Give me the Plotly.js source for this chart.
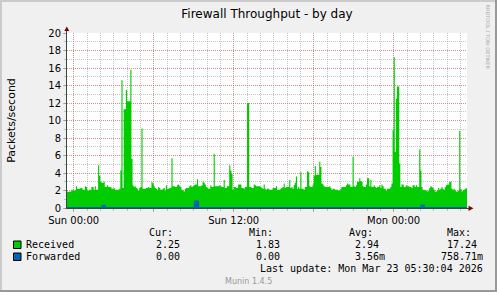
<!DOCTYPE html>
<html><head><meta charset="utf-8">
<script src="https://cdn.plot.ly/plotly-3.0.1.min.js"></script>
<style>html,body{margin:0;padding:0;background:#f0f0f0;}#chart{width:497px;height:292px;}</style>
</head><body><div id="chart"></div>
<script>
// time axis: hours relative to Sun 00:00, 5-minute steps starting Sat 23:30
const startHour = -0.5;
const stepHour = 5 / 60;
const endHour = 29.5;

// Received packets/second, one row per hour (12 x 5-min samples)
const received = [
1.9,1.83,1.9,1.9,2.1,2.0,2.0,2.0,2.5,2.2,2.2,2.2,
2.3,2.3,2.1,2.1,2.5,2.4,2.0,2.0,2.1,2.1,2.4,2.4,
2.1,2.5,2.1,2.1,4.9,3.7,3.0,2.9,2.9,3.0,2.4,2.4,
2.6,2.4,2.4,2.4,2.2,2.2,2.3,2.1,2.1,2.1,2.1,2.2,
4.3,14.6,2.3,11.3,11.3,13.5,12.2,12.2,12.2,15.8,5.6,2.6,
2.4,2.5,2.3,2.2,2.0,2.3,2.4,9.1,2.2,2.2,2.2,2.3,
2.3,2.4,2.3,2.3,3.0,2.8,2.5,2.3,2.2,2.1,2.4,2.3,
2.1,2.1,2.2,2.3,2.0,2.6,2.2,2.2,2.3,2.3,5.7,2.5,
2.5,2.4,2.4,2.6,2.7,2.5,2.4,2.1,2.0,1.9,2.2,2.3,
2.3,2.3,2.5,2.6,2.4,2.5,2.6,2.7,2.7,3.3,2.5,2.5,
2.5,2.6,3.0,2.9,2.7,2.4,2.3,2.2,2.2,2.6,2.4,2.4,
6.2,2.5,2.5,2.5,2.5,2.6,2.5,2.4,2.4,3.2,2.3,2.3,
2.5,2.5,4.9,4.3,3.9,2.1,2.4,2.4,2.3,2.3,2.7,2.7,
2.7,2.3,2.3,2.2,2.4,2.4,12.0,12.0,2.4,2.4,2.3,2.3,
2.7,2.6,2.5,2.5,2.5,2.5,2.4,2.3,2.2,2.7,2.2,2.1,
2.2,2.2,2.1,2.1,2.1,2.3,2.3,2.3,2.5,2.1,2.1,2.1,
2.2,2.3,2.4,2.8,2.3,2.4,2.4,2.4,3.2,2.3,2.4,2.2,
2.6,2.9,3.6,2.2,2.4,2.2,4.1,2.2,2.2,2.1,2.4,2.4,
4.2,4.1,2.5,2.4,2.4,2.7,3.7,4.8,3.8,3.8,3.8,5.3,
4.7,2.8,2.7,2.5,2.4,2.4,2.4,2.4,2.5,2.3,2.1,2.2,
2.2,2.1,2.1,2.1,2.0,2.0,2.2,2.4,2.4,2.4,2.4,2.6,
2.8,2.7,2.7,2.4,2.4,5.9,2.5,2.4,2.6,3.0,3.0,3.4,
3.1,3.0,2.5,2.4,2.4,2.7,3.4,3.4,2.5,3.2,2.4,2.4,
2.6,2.4,2.3,2.4,2.4,2.6,2.3,2.7,2.5,2.2,2.2,2.0,
2.2,2.2,2.2,2.4,2.8,8.9,17.24,6.4,12.5,13.9,13.9,5.1,
2.4,2.7,2.7,2.4,2.4,2.6,2.5,2.5,2.4,2.4,2.3,2.6,
2.6,2.4,2.6,2.4,2.4,6.7,4.3,2.4,2.1,2.1,2.0,2.0,
1.9,2.0,2.3,2.5,2.4,2.3,2.1,1.9,1.9,2.0,2.3,2.1,
2.2,2.4,2.2,2.1,2.4,2.6,2.7,2.7,3.0,3.0,2.2,2.1,
2.2,2.0,1.9,1.9,2.0,8.8,2.2,1.9,2.0,2.1,2.2,2.25
];

// Forwarded packets/second, same layout
const forwarded = [
0,0,0,0,0,0,0,0,0,0,0,0,
0,0,0,0,0,0,0,0,0,0,0,0,
0,0,0,0,0,0,0,0,0.25,0.25,0,0,
0,0,0,0,0,0,0,0,0,0,0,0,
0,0,0,0,0,0,0,0,0,0,0,0,
0,0,0,0,0,0,0,0,0,0,0,0,
0,0,0,0,0,0,0,0,0,0,0,0,
0,0,0,0,0,0,0,0,0,0,0,0,
0,0,0,0,0,0,0,0,0,0,0,0,
0,0,0,0,0,0,0,0.72,0.7587,0.72,0,0,
0,0,0,0,0,0,0,0,0,0,0,0,
0,0,0,0,0,0,0,0,0,0,0,0,
0,0,0,0,0,0,0,0,0,0,0,0,
0,0,0,0,0,0,0,0,0,0,0,0,
0,0,0,0,0,0,0,0,0,0,0,0,
0,0,0,0,0,0,0,0,0,0,0,0,
0,0,0,0,0,0,0,0,0,0,0,0,
0,0,0,0,0,0,0,0,0,0,0,0,
0,0,0,0,0,0,0,0,0,0,0,0,
0,0,0,0,0,0,0,0,0,0,0,0,
0,0,0,0,0,0,0,0,0,0,0,0,
0,0,0,0,0,0,0,0,0,0,0,0,
0,0,0,0,0,0,0,0,0,0,0,0,
0,0,0,0,0,0,0,0,0,0,0,0,
0,0,0,0,0,0,0,0,0,0,0,0,
0,0,0,0,0,0,0,0,0,0,0,0,
0,0,0,0,0,0,0,0.3,0.3,0,0,0,
0,0,0,0,0,0,0,0,0,0,0,0,
0,0,0,0,0,0,0,0,0,0,0,0,
0,0,0,0,0,0,0,0,0,0,0,0
];

const xTickVals = [0, 6, 12, 18, 24];
const xTickLabels = ['Sun 00:00', '', 'Sun 12:00', '', 'Mon 00:00'];
const yTickVals = [0, 2, 4, 6, 8, 10, 12, 14, 16, 18, 20];

const titleText = 'Firewall Throughput - by day';
const yTitle = 'Packets/second';
const seriesNames = ['Received', 'Forwarded'];
const seriesColors = ['#00CC00', '#0066B3'];
const statHeaders = ['Cur:', 'Min:', 'Avg:', 'Max:'];
const receivedStats = ['2.25', '1.83', '2.94', '17.24'];
const forwardedStats = ['0.00', '0.00', '3.56m', '758.71m'];
const lastUpdate = 'Last update: Mon Mar 23 05:30:04 2026';
const footer = 'Munin 1.4.5';
const watermark = 'RRDTOOL / TOBI OETIKER';

// ---- build ----
const times = received.map((v, i) => startHour + i * stepHour);
times.push(endHour);
const recY = received.concat([received[received.length - 1]]);
const fwdY = forwarded.concat([forwarded[forwarded.length - 1]]);

const W = 497, H = 292;
const L = 67, R = 467, T = 33, B = 208;
const px = x => (x - L) / (R - L);
const py = y => (B - y) / (B - T);

const GRID = 'rgba(143,143,143,0.5)';
const MGRID = 'rgba(222,80,80,0.5)';
const AXIS = '#2C4D43';
const ARROW = '#7F0000';
const MONO = {family: 'DejaVu Sans Mono', size: 10, color: '#000'};
const SANS = {family: 'DejaVu Sans', size: 10, color: '#000'};

function ann(text, x, y, xanchor, font, extra) {
  return Object.assign({text: text, xref: 'paper', yref: 'paper', x: px(x), y: py(y),
    xanchor: xanchor, yanchor: 'middle', showarrow: false, font: font,
    borderpad: 0, borderwidth: 0}, extra || {});
}
function rect(x0, y0, x1, y1, fill, line) {
  return {type: 'rect', xref: 'paper', yref: 'paper', x0: px(x0), x1: px(x1), y0: py(y0), y1: py(y1),
    fillcolor: fill, line: line || {width: 0}, layer: 'above'};
}
function tri(points, color) {
  const d = 'M' + points.map(p => px(p[0]) + ',' + py(p[1])).join('L') + 'Z';
  return {type: 'path', xref: 'paper', yref: 'paper', path: d, fillcolor: color, line: {width: 0}, layer: 'above'};
}

const headerX = [149.4, 248.8, 348.5, 446.8];
const valueRight = [185.6, 285.6, 384.6, 483.3];
const charW = 6.02;
function valueAnn(v, col, y) {
  const hasSuffix = /[a-zA-Z]$/.test(v);
  return ann(v, valueRight[col] - (hasSuffix ? 0 : charW), y, 'right', MONO);
}

const annotations = [];
statHeaders.forEach((h, i) => annotations.push(ann(h, headerX[i], 232.7, 'left', MONO)));
annotations.push(ann(seriesNames[0], 25.8, 244.3, 'left', MONO));
annotations.push(ann(seriesNames[1], 25.8, 256, 'left', MONO));
receivedStats.forEach((v, i) => annotations.push(valueAnn(v, i, 244.3)));
forwardedStats.forEach((v, i) => annotations.push(valueAnn(v, i, 256)));
annotations.push(ann(lastUpdate, 483.3, 268.7, 'right', MONO));
annotations.push(ann(footer, 248.3, 281, 'center', {family: 'DejaVu Sans', size: 8, color: '#999999'}));
annotations.push(ann(watermark, 488, 36.5, 'center', {family: 'DejaVu Sans', size: 5, color: '#a8a8a8'}, {textangle: 90}));

const shapes = [
  rect(0, 0, W, 2, '#CBCBCB'),
  rect(0, 0, 2, H, '#CBCBCB'),
  rect(W - 2, 0, W, H, '#999999'),
  rect(0, H - 2, W, H, '#999999'),
  rect(13.5, 241, 21, 248.5, seriesColors[0], {width: 1, color: '#000'}),
  rect(13.5, 253, 21, 260.5, seriesColors[1], {width: 1, color: '#000'}),
  {type: 'line', xref: 'paper', yref: 'paper', x0: px(467), x1: px(469), y0: py(208.5), y1: py(208.5), line: {color: AXIS, width: 1}},
  {type: 'line', xref: 'paper', yref: 'paper', x0: px(66.5), x1: px(66.5), y0: py(33), y1: py(30), line: {color: AXIS, width: 1}},
  tri([[64.3, 31], [69.3, 31], [66.8, 26.5]], ARROW),
  tri([[468.5, 205.7], [468.5, 210.9], [473.5, 208.3]], ARROW)
];

const data = [
  {type: 'scatter', mode: 'lines', name: seriesNames[0], x: times, y: recY,
   line: {shape: 'hv', width: 0, color: seriesColors[0]}, fill: 'tozeroy', fillcolor: seriesColors[0], hoverinfo: 'skip'},
  {type: 'scatter', mode: 'lines', name: seriesNames[1], x: times, y: fwdY,
   line: {shape: 'hv', width: 2, color: seriesColors[1]}, fill: 'tozeroy', fillcolor: seriesColors[1], hoverinfo: 'skip'}
];

const layout = {
  width: W, height: H,
  margin: {l: L, r: W - R, t: T, b: H - B, pad: 0},
  paper_bgcolor: '#F0F0F0', plot_bgcolor: '#FFFFFF',
  showlegend: false,
  title: {text: titleText, font: {family: 'DejaVu Sans', size: 12, color: '#000'},
          xref: 'paper', x: 0.5, xanchor: 'center', yref: 'container', y: 1 - 14 / H, yanchor: 'middle'},
  xaxis: {
    range: [startHour, endHour], tickmode: 'array', tickvals: xTickVals, ticktext: xTickLabels,
    showgrid: true, gridcolor: MGRID, griddash: '1px,1px', gridwidth: 1,
    ticks: 'outside', ticklen: 3, tickcolor: MGRID, tickwidth: 1,
    showline: true, linecolor: AXIS, linewidth: 1, zeroline: false,
    tickfont: SANS, fixedrange: true,
    minor: {tick0: 0, dtick: 1, showgrid: true, gridcolor: GRID, griddash: '1px,1px', gridwidth: 1,
            ticks: 'outside', ticklen: 2, tickcolor: GRID}
  },
  yaxis: {
    range: [0, 20], tickmode: 'array', tickvals: yTickVals,
    showgrid: true, gridcolor: MGRID, griddash: '1px,1px', gridwidth: 1,
    ticks: 'outside', ticklen: 3, tickcolor: MGRID, tickwidth: 1,
    showline: true, linecolor: AXIS, linewidth: 1, zeroline: false,
    tickfont: SANS, fixedrange: true,
    title: {text: yTitle, font: {family: 'DejaVu Sans', size: 11, color: '#000'}, standoff: 30},
    minor: {tick0: 0, dtick: 1, showgrid: true, gridcolor: GRID, griddash: '1px,1px', gridwidth: 1,
            ticks: 'outside', ticklen: 2, tickcolor: GRID}
  },
  annotations: annotations,
  shapes: shapes
};

Plotly.newPlot('chart', data, layout, {staticPlot: true, displayModeBar: false});
</script>
</body></html>
